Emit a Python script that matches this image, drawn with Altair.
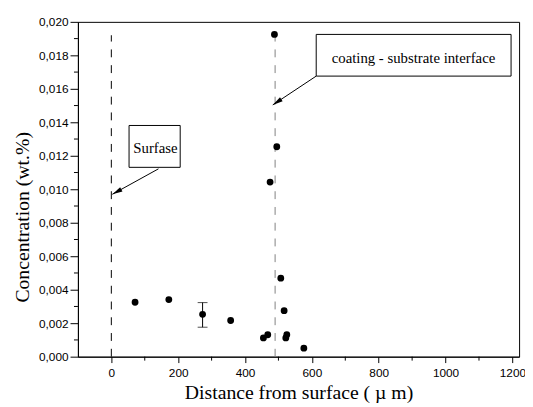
import math
import altair as alt
import pandas as pd

# measured data
distance = [71, 172, 273, 357, 455, 468, 488, 475, 495, 507, 517, 522, 525, 576]
concentration = [0.00325, 0.00341, 0.00253, 0.00216, 0.00112, 0.00131, 0.01925,
                 0.01043, 0.01254, 0.00469, 0.00275, 0.00112, 0.00131, 0.00051]

# error bar
err_x = [273]
err_lo = [0.00176]
err_hi = [0.00323]

# reference dashed lines
line_x = [0, 490]
line_color = ["black", "#808080"]
line_top = [0.0192, 0.0192]

# annotation boxes
box_label = ["Surfase", "coating - substrate interface"]
box_x1 = [53, 613]
box_x2 = [206, 1196]
box_y1 = [0.01131, 0.01676]
box_y2 = [0.01381, 0.01925]
text_x = [132, 904]
text_y = [0.01247, 0.01782]
text_size = [15, 15]

# arrows
arr_x1 = [141, 613]
arr_y1 = [0.01122, 0.01676]
arr_x2 = [3, 483]
arr_y2 = [0.0097, 0.01504]

x_ticks = [0, 200, 400, 600, 800, 1000, 1200]
x_minor = [100, 300, 500, 700, 900, 1100]
y_ticks = [0.000, 0.002, 0.004, 0.006, 0.008, 0.010, 0.012, 0.014, 0.016, 0.018, 0.020]
y_minor = [0.001, 0.003, 0.005, 0.007, 0.009, 0.011, 0.013, 0.015, 0.017, 0.019]

X_DOMAIN = [-100, 1220]
Y_DOMAIN = [0, 0.020]
W, H = 448, 340

pts = pd.DataFrame({"x": distance, "y": concentration})
err = pd.DataFrame({"x": err_x, "lo": err_lo, "hi": err_hi})
lines = pd.DataFrame({"x": line_x, "c": line_color, "y0": [0, 0], "y1": line_top})
boxes = pd.DataFrame({"x1": box_x1, "x2": box_x2, "y1": box_y1, "y2": box_y2,
                      "tx": text_x, "ty": text_y, "label": box_label, "fs": text_size})
sx = W / (X_DOMAIN[1] - X_DOMAIN[0])
sy = H / (Y_DOMAIN[1] - Y_DOMAIN[0])
angles = []
for a, b, c, d in zip(arr_x1, arr_y1, arr_x2, arr_y2):
    dx = (c - a) * sx
    dy = -(d - b) * sy
    ang = math.degrees(math.atan2(dx, -dy)) % 360
    angles.append(ang)
arrows = pd.DataFrame({"x1": arr_x1, "y1": arr_y1, "x2": arr_x2, "y2": arr_y2, "ang": angles})
xminor = pd.DataFrame({"x": x_minor})
yminor = pd.DataFrame({"y": y_minor})

xs = alt.Scale(domain=X_DOMAIN, nice=False, zero=False)
ys = alt.Scale(domain=Y_DOMAIN, nice=False, zero=False)


def X(f, **kw):
    return alt.X(f, scale=xs, axis=None, **kw)


def Y(f, **kw):
    return alt.Y(f, scale=ys, axis=None, **kw)


x_axis = alt.Axis(values=x_ticks, format="d", title="Distance from surface ( µ m)", grid=False,
                  labelFont="Liberation Sans Narrow, Liberation Sans, Arial", labelFontSize=12,
                  labelColor="black", tickSize=6, tickColor="black", domainColor="black",
                  labelPadding=5, titleFont="Liberation Serif", titleFontSize=20,
                  titleFontWeight="normal", titleColor="black", titlePadding=4,
                  labelFlush=False, labelOverlap=False)
y_axis = alt.Axis(values=y_ticks, title="Concentration (wt.%)", grid=False,
                  labelExpr="replace(format(datum.value, '.3f'), '.', ',')",
                  labelFont="Liberation Sans", labelFontSize=12, labelColor="black",
                  tickSize=8, tickColor="black", domainColor="black", labelPadding=2,
                  titleFont="Liberation Serif", titleFontSize=20, titleFontWeight="normal",
                  titleColor="black", titleX=-56, titleY=198, titleAngle=270,
                  titleAlign="center", titleBaseline="middle", labelFlush=False,
                  labelOverlap=False)

base_pts = alt.Chart(pts).mark_circle(size=48, color="black", opacity=1).encode(
    x=alt.X("x:Q", scale=xs, axis=x_axis),
    y=alt.Y("y:Q", scale=ys, axis=y_axis),
)

dashed = alt.Chart(lines).mark_rule(strokeDash=[8, 8], strokeWidth=1).encode(
    x=X("x:Q"), y=Y("y0:Q"), y2="y1:Q",
    color=alt.Color("c:N", scale=None),
)

err_rule = alt.Chart(err).mark_rule(color="black", strokeWidth=1).encode(
    x=X("x:Q"), y=Y("lo:Q"), y2="hi:Q")
err_lo_t = alt.Chart(err).mark_tick(color="black", orient="horizontal", size=10, thickness=1).encode(
    x=X("x:Q"), y=Y("lo:Q"))
err_hi_t = alt.Chart(err).mark_tick(color="black", orient="horizontal", size=10, thickness=1).encode(
    x=X("x:Q"), y=Y("hi:Q"))

box = alt.Chart(boxes).mark_rect(fill="white", stroke="black", strokeWidth=1).encode(
    x=X("x1:Q"), x2="x2:Q", y=Y("y1:Q"), y2="y2:Q")
txt = alt.Chart(boxes).mark_text(font="Liberation Serif", color="black",
                                 align="center", baseline="middle").encode(
    x=X("tx:Q"), y=Y("ty:Q"), text="label:N",
    size=alt.Size("fs:Q", scale=None))

arr_line = alt.Chart(arrows).mark_rule(color="black", strokeWidth=1).encode(
    x=X("x1:Q"), y=Y("y1:Q"), x2="x2:Q", y2="y2:Q")
arr_head = alt.Chart(arrows).mark_point(
    shape="M0,0L-0.6,2.6L0.6,2.6Z", filled=True, color="black", opacity=1, size=64,
    strokeWidth=0).encode(
    x=X("x2:Q"), y=Y("y2:Q"),
    angle=alt.Angle("ang:Q", scale=None))

xmin_t = alt.Chart(xminor).mark_rule(color="black", strokeWidth=1).encode(
    x=X("x:Q"), y=alt.value(H), y2=alt.value(H + 4))
ymin_t = alt.Chart(yminor).mark_rule(color="black", strokeWidth=1).encode(
    y=Y("y:Q"), x=alt.value(0), x2=alt.value(-4))

chart = alt.layer(
    dashed, err_rule, err_lo_t, err_hi_t, base_pts, box, txt, arr_line, arr_head,
    xmin_t, ymin_t
).resolve_axis(x="independent", y="independent").properties(
    width=W, height=H,
    background="white",
    autosize=alt.AutoSizeParams(type="none"),
    padding={"left": 71, "top": 11, "right": 6, "bottom": 46},
).configure_view(stroke="black", strokeWidth=1).configure_axis(labelOverlap=False)

chart.save("out.html", embed_options={"renderer": "svg", "actions": False})
